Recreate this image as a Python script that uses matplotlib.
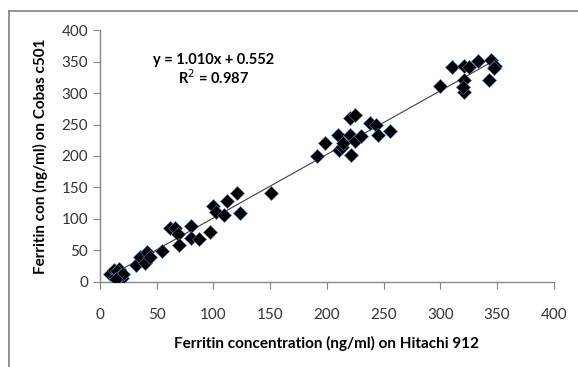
import numpy as np
import matplotlib

matplotlib.use('Agg')
import matplotlib.pyplot as plt
from matplotlib.lines import Line2D

plt.rcParams['font.family'] = ['Lato', 'DejaVu Sans']

# Hitachi 912 (x) vs Cobas c501 (y), ng/ml
hitachi = [9, 12, 13, 16, 17, 19, 15, 18, 20, 14,
           32, 35, 40, 41, 44, 55, 62, 66, 69, 70,
           80, 80, 87, 97, 100, 102, 109, 112, 121, 123, 151,
           191, 198, 210, 211, 213, 214, 220, 221, 225, 220, 225,
           230, 238, 243, 245, 256,
           300, 310, 321, 325, 333, 321, 321, 320, 345, 348, 343, 347]
cobas = [12, 19, 8, 14, 21, 6, 17, 10, 12, 4,
         26, 39, 30, 48, 40, 49, 86, 85, 76, 59,
         89, 69, 68, 79, 120, 111, 107, 129, 141, 110, 141,
         200, 220, 233, 210, 215, 221, 233, 202, 224, 260, 265,
         231, 253, 249, 233, 240,
         311, 341, 343, 342, 351, 321, 302, 310, 352, 343, 321, 340]

slope = 1.010
intercept = 0.552
eq_text = 'y = 1.010x + 0.552\nR$^2$ = 0.987'

fig = plt.figure(figsize=(5.78, 3.67), dpi=100)
ax = fig.add_axes([0.173, 0.232, 0.785, 0.686])

ax.scatter(hitachi, cobas, marker='D', s=52, color='black',
           edgecolors='#4f81bd', linewidths=0.4, zorder=3)

xl = np.array([min(hitachi), max(hitachi)])
ax.plot(xl, slope * xl + intercept, color='#404040', lw=0.8, zorder=2)

ax.set_xlim(0, 400)
ax.set_ylim(0, 400)
ax.set_xticks(range(0, 401, 50))
ax.set_yticks(range(0, 401, 50))
for side in ['top', 'right']:
    ax.spines[side].set_visible(False)
for side in ['left', 'bottom']:
    ax.spines[side].set_color('#868686')
    ax.spines[side].set_linewidth(1.0)
ax.tick_params(direction='out', length=5, color='#868686',
               labelsize=11, labelcolor='#333333')
ax.tick_params(axis='x', pad=14)

ax.set_xlabel('Ferritin concentration (ng/ml) on Hitachi 912',
              fontsize=11, fontweight='bold', labelpad=10)
ax.set_ylabel('Ferritin con (ng/ml) on Cobas c501',
              fontsize=11, fontweight='bold', labelpad=10)

ax.text(100, 364, eq_text, ha='center', va='top', fontsize=10.5,
        fontweight='bold', linespacing=1.1)

# outer frame, cut off at right and bottom
fig.add_artist(Line2D([9 / 578, 9 / 578], [0, 1 - 11 / 367],
                      transform=fig.transFigure, color='#808080', lw=1.2))
fig.add_artist(Line2D([9 / 578, 1], [1 - 11 / 367, 1 - 11 / 367],
                      transform=fig.transFigure, color='#808080', lw=1.2))

fig.savefig('out.png')
